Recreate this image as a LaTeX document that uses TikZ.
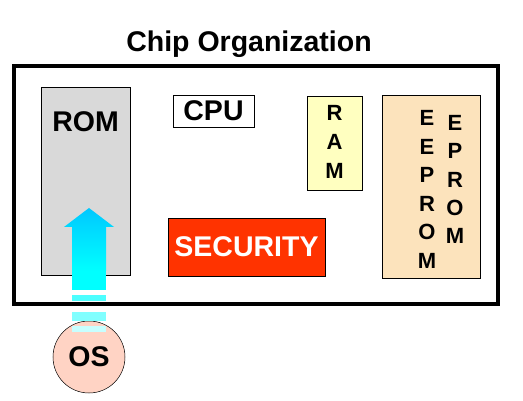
\documentclass[tikz,border=0pt]{standalone}
\usepackage{fontspec}
\setmainfont{Liberation Sans}
\usetikzlibrary{positioning}

\definecolor{romgray}{HTML}{D9D9D9}
\definecolor{ramyellow}{HTML}{FFFFC0}
\definecolor{eepromtan}{HTML}{FCE3BC}
\definecolor{secred}{HTML}{FF3300}
\definecolor{ospeach}{HTML}{FFD3C4}
\definecolor{arrowtop}{HTML}{00C8FF}
\definecolor{arrowbot}{HTML}{00FFFF}

\tikzset{
    block/.style={draw, line width=0.8pt, inner sep=0pt},
    lbl/.style={font=\bfseries\fontsize{28.5}{28.5}\selectfont},
    letter/.style={font=\bfseries\fontsize{22}{22}\selectfont, inner sep=0pt},
}

\begin{document}
\begin{tikzpicture}[x=1pt, y=-1pt]
    \useasboundingbox (0,0) rectangle (523,401);

    \node[lbl] (title) at (249,44) {Chip Organization};
    \draw[line width=4.5pt] (14,66) rectangle (498,304);

    % ROM
    \node[block, fill=romgray, minimum width=89pt, minimum height=188pt] (rom) at (85.5,181) {};
    \node[lbl] (romlbl) at (85.5,122) {ROM};

    % CPU
    \node[block, fill=white, minimum width=81pt, minimum height=32pt, lbl] (cpu) at (213.5,111) {CPU};

    % RAM
    \node[block, fill=ramyellow, minimum width=55pt, minimum height=94pt] (ram) at (334.5,143) {};
    \node[letter] (r1) at (334.5,113) {R};
    \node[letter] (r2) at (334.5,142) {A};
    \node[letter] (r3) at (334.5,171) {M};

    % EEPROM
    \node[block, fill=eepromtan, minimum width=98pt, minimum height=183pt] (eeprom) at (431,186.5) {};
    \foreach \ch [count=\i] in {E,E,P,R,O,M}
        \node[letter] (ea\i) at (427,{118+28.6*(\i-1)}) {\ch};
    \foreach \ch [count=\i] in {E,P,R,O,M}
        \node[letter] (eb\i) at (455,{123+28.3*(\i-1)}) {\ch};

    % SECURITY
    \node[block, fill=secred, text=white, minimum width=157pt, minimum height=58pt, lbl] (sec) at (246.5,247) {SECURITY};

    % OS and the loading arrow
    \node[draw, circle, fill=ospeach, line width=0.5pt, minimum size=72pt, lbl, inner sep=0pt] (os) at (89,357) {OS};
    \shade[top color=arrowtop, bottom color=arrowbot, draw=none]
        (os.center |- 0,208) -- ++(25,19) -- ++(-8,0) -- ++(0,44) -- ++(-34,0)
        -- ++(0,-44) -- ++(-8,0) -- cycle;
    \fill[arrowbot] ([xshift=-17pt]os.center |- 0,271) rectangle ([xshift=17pt]os.center |- 0,290);
    \fill[arrowbot!70!white] ([xshift=-17pt]os.center |- 0,295) rectangle ([xshift=17pt]os.center |- 0,301.5);
    \fill[arrowbot!50!white] ([xshift=-17pt]os.center |- 0,312) rectangle ([xshift=17pt]os.center |- 0,321);
    \fill[arrowbot!22!white] ([xshift=-17pt]os.center |- 0,326) rectangle ([xshift=17pt]os.center |- 0,332);
\end{tikzpicture}
\end{document}
